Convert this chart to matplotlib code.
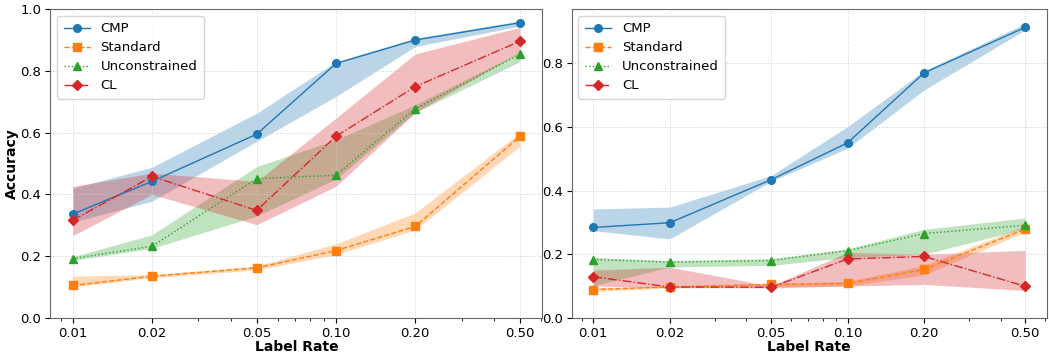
import matplotlib
matplotlib.use("Agg")
from matplotlib import pyplot as plt
from matplotlib.ticker import NullFormatter

# ラベル率
label_rate = [0.01, 0.02, 0.05, 0.10, 0.20, 0.50]
tick_labels = ["0.01", "0.02", "0.05", "0.10", "0.20", "0.50"]

# left panel: mean, lower, upper
cmp_l = [0.336, 0.442, 0.595, 0.824, 0.900, 0.956]
cmp_l_lo = [0.310, 0.378, 0.572, 0.717, 0.879, 0.945]
cmp_l_hi = [0.420, 0.488, 0.663, 0.830, 0.906, 0.962]

std_l = [0.105, 0.135, 0.162, 0.218, 0.296, 0.588]
std_l_lo = [0.100, 0.130, 0.155, 0.205, 0.285, 0.556]
std_l_hi = [0.135, 0.140, 0.168, 0.240, 0.340, 0.600]

unc_l = [0.192, 0.232, 0.451, 0.462, 0.677, 0.854]
unc_l_lo = [0.186, 0.225, 0.330, 0.450, 0.665, 0.830]
unc_l_hi = [0.198, 0.269, 0.490, 0.577, 0.690, 0.860]

cl_l = [0.316, 0.458, 0.348, 0.588, 0.749, 0.896]
cl_l_lo = [0.266, 0.400, 0.302, 0.426, 0.665, 0.860]
cl_l_hi = [0.426, 0.469, 0.442, 0.647, 0.855, 0.941]

# right panel
cmp_r = [0.284, 0.299, 0.434, 0.550, 0.770, 0.913]
cmp_r_lo = [0.274, 0.248, 0.429, 0.533, 0.716, 0.905]
cmp_r_hi = [0.342, 0.348, 0.447, 0.601, 0.776, 0.925]

std_r = [0.089, 0.097, 0.105, 0.108, 0.152, 0.279]
std_r_lo = [0.083, 0.094, 0.098, 0.100, 0.135, 0.270]
std_r_hi = [0.095, 0.100, 0.108, 0.115, 0.165, 0.290]

unc_r = [0.183, 0.175, 0.180, 0.211, 0.265, 0.291]
unc_r_lo = [0.101, 0.160, 0.165, 0.190, 0.200, 0.280]
unc_r_hi = [0.190, 0.180, 0.186, 0.217, 0.278, 0.314]

cl_r = [0.129, 0.097, 0.096, 0.185, 0.193, 0.099]
cl_r_lo = [0.100, 0.095, 0.094, 0.100, 0.105, 0.086]
cl_r_hi = [0.150, 0.159, 0.100, 0.206, 0.200, 0.212]

names = ["CMP", "Standard", "Unconstrained", "CL"]
colors = ["#1f77b4", "#ff7f0e", "#2ca02c", "#d62728"]
styles = ["-", "--", ":", "-."]
markers = ["o", "s", "^", "D"]

left_data = [(cmp_l, cmp_l_lo, cmp_l_hi), (std_l, std_l_lo, std_l_hi),
             (unc_l, unc_l_lo, unc_l_hi), (cl_l, cl_l_lo, cl_l_hi)]
right_data = [(cmp_r, cmp_r_lo, cmp_r_hi), (std_r, std_r_lo, std_r_hi),
              (unc_r, unc_r_lo, unc_r_hi), (cl_r, cl_r_lo, cl_r_hi)]

fig = plt.figure(figsize=(10.49, 3.52), dpi=100)
ax1 = fig.add_axes([0.048, 0.097, 0.469, 0.877])
ax2 = fig.add_axes([0.545, 0.097, 0.453, 0.877])

for ax, data, ylim in [(ax1, left_data, (0, 1.0)), (ax2, right_data, (0, 0.97))]:
    for i, (m, lo, hi) in enumerate(data):
        ax.fill_between(label_rate, lo, hi, color=colors[i], alpha=0.3, linewidth=0)
        ax.plot(label_rate, m, color=colors[i], linestyle=styles[i], marker=markers[i],
                markersize=5.5, linewidth=1, label=names[i])
    ax.set_xscale("log")
    ax.set_xticks(label_rate, tick_labels)
    ax.xaxis.set_minor_formatter(NullFormatter())
    ax.set_ylim(*ylim)
    ax.set_yticks([0, 0.2, 0.4, 0.6, 0.8] + ([1.0] if ylim[1] >= 1.0 else []))
    ax.tick_params(labelsize=9.5, pad=3)
    ax.grid(True, linestyle=":", color="#cccccc", linewidth=0.7)
    for s in ax.spines.values():
        s.set_color("#666666")
    ax.set_xlabel("Label Rate", fontsize=10, fontweight="bold", labelpad=0)
    ax.legend(loc="upper left", fontsize=9.5, handlelength=2, borderpad=0.5,
              labelspacing=0.45)

ax1.set_ylabel("Accuracy", fontsize=10, fontweight="bold", labelpad=1)

plt.savefig("out.png", dpi=100)
